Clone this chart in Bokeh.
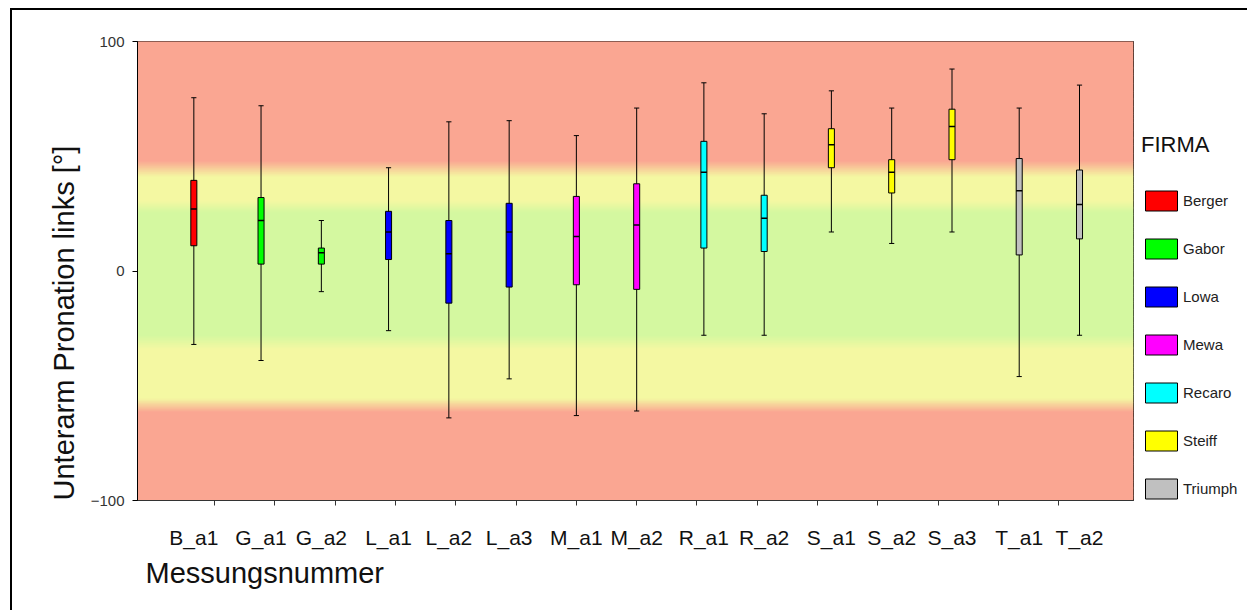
import numpy as np
from bokeh.plotting import figure
from bokeh.layouts import row
from bokeh.models import Range1d, FixedTicker, Legend, LegendItem, ColumnDataSource, Title
from bokeh.embed import file_html
from bokeh.resources import INLINE

# ---------------- data ----------------
measurements = ["B_a1", "G_a1", "G_a2", "L_a1", "L_a2", "L_a3", "M_a1", "M_a2",
                "R_a1", "R_a2", "S_a1", "S_a2", "S_a3", "T_a1", "T_a2"]
firm_of_measurement = ["Berger", "Gabor", "Gabor", "Lowa", "Lowa", "Lowa", "Mewa", "Mewa",
                       "Recaro", "Recaro", "Steiff", "Steiff", "Steiff", "Triumph", "Triumph"]
firms = ["Berger", "Gabor", "Lowa", "Mewa", "Recaro", "Steiff", "Triumph"]
firm_colors = ["#FF0000", "#00FF00", "#0000FF", "#FF00FF", "#00FFFF", "#FFFF00", "#C0C0C0"]

whisker_low = [-32, -39, -9, -26, -64, -47, -63, -61, -28, -28, 17, 12, 17, -46, -28]
q1 = [11, 3, 3, 5, -14, -7, -6, -8, 10, 8.5, 45, 34, 48.5, 7, 14]
median = [27, 22, 8, 17, 7.5, 17, 15, 20, 43, 23, 55, 43, 63, 35, 29]
q3 = [39.5, 32, 10, 26, 22, 29.5, 32.5, 38, 56.5, 33, 62, 48.5, 70.5, 49, 44]
whisker_high = [75.5, 72, 22, 45, 65, 65.5, 59, 71, 82, 68.5, 78.5, 71, 88, 71, 81]

y_ticks = [-100, 0, 100]
x_title = "Messungsnummer"
y_title = "Unterarm Pronation links [°]"
legend_title = "FIRMA"

# background zones (top to bottom): red / yellow / green / yellow / red
zone_edges = [44.5, 28.0, -31.0, -58.5]
zone_blur = [7.0, 5.0, 6.0, 6.0]
zone_colors = ["#FAA692", "#F4F8A2", "#D4F8A0", "#F4F8A2", "#FAA692"]

# ---------------- layout constants ----------------
CAT = 70      # units per category
SUB = 8       # cluster slot width (one slot per firm)
BOX_W = 7
CAP_W = 6
FONT = "Liberation Sans"

n = len(measurements)
centers = [i * CAT for i in range(n)]
x_pos = [i * CAT + (firms.index(f) - 3) * SUB for i, f in enumerate(firm_of_measurement)]

p = figure(frame_width=996, frame_height=459, output_backend="svg", toolbar_location=None,
           x_range=Range1d(-1.277 * CAT, 15.238 * CAT), y_range=Range1d(-100, 100),
           min_border_left=125, min_border_right=2, min_border_top=31, min_border_bottom=110)
p.xgrid.visible = False
p.ygrid.visible = False
p.outline_line_color = "black"
p.outline_line_width = 1
p.background_fill_color = "white"

# ---------------- background gradient zones ----------------
def hex2rgb(h):
    return np.array([int(h[i:i + 2], 16) for i in (1, 3, 5)], dtype=float)

step = 0.5
ys = np.arange(-100, 100, step)
cols = []
for yb in ys:
    yc = yb + step / 2
    c = hex2rgb(zone_colors[0])
    for j, (e, w) in enumerate(zip(zone_edges, zone_blur)):
        t = np.clip((e + w / 2 - yc) / w, 0, 1)
        c = c * (1 - t) + hex2rgb(zone_colors[j + 1]) * t
    cols.append("#%02x%02x%02x" % tuple(int(round(v)) for v in c))
p.quad(left=p.x_range.start, right=p.x_range.end, bottom=ys, top=ys + step * 1.8,
       fill_color=cols, line_color=None)

# ---------------- boxes ----------------
for k, firm in enumerate(firms):
    idx = [i for i, f in enumerate(firm_of_measurement) if f == firm]
    xs = [x_pos[i] for i in idx]
    src = ColumnDataSource(dict(
        x=xs,
        cx0=[x - CAP_W / 2 for x in xs], cx1=[x + CAP_W / 2 for x in xs],
        bx0=[x - BOX_W / 2 for x in xs], bx1=[x + BOX_W / 2 for x in xs],
        lo=[whisker_low[i] for i in idx], q1=[q1[i] for i in idx],
        med=[median[i] for i in idx], q3=[q3[i] for i in idx],
        hi=[whisker_high[i] for i in idx],
    ))
    p.segment(x0="x", y0="lo", x1="x", y1="hi", line_color="black", line_width=1, source=src)
    p.segment(x0="cx0", y0="hi", x1="cx1", y1="hi", line_color="black", line_width=1, source=src)
    p.segment(x0="cx0", y0="lo", x1="cx1", y1="lo", line_color="black", line_width=1, source=src)
    p.vbar(x="x", width=BOX_W, bottom="q1", top="q3", fill_color=firm_colors[k],
           line_color="black", line_width=1, source=src)
    p.segment(x0="bx0", y0="med", x1="bx1", y1="med", line_color="black", line_width=1.5, source=src)

# ---------------- axes ----------------
xa = p.xaxis[0]
xa.ticker = FixedTicker(ticks=x_pos, minor_ticks=centers)
xa.major_label_overrides = {x: m for x, m in zip(x_pos, measurements)}
xa.major_tick_out = 0
xa.major_tick_in = 0
xa.minor_tick_out = 5
xa.minor_tick_in = 0
xa.minor_tick_line_color = "#333333"
xa.axis_line_color = "#333333"
xa.major_label_standoff = 20
xa.major_label_text_font = FONT
xa.major_label_text_font_size = "21px"
xa.major_label_text_color = "#111111"

ya = p.yaxis[0]
ya.ticker = FixedTicker(ticks=y_ticks, minor_ticks=[])
ya.major_tick_out = 5
ya.major_tick_in = 0
ya.major_tick_line_color = "black"
ya.axis_line_color = "black"
ya.major_label_standoff = 8
ya.major_label_text_font = FONT
ya.major_label_text_font_size = "15px"
ya.major_label_text_color = "#333333"

p.add_layout(Title(text=x_title, align="left", offset=8, standoff=7,
                   text_font=FONT, text_font_size="29px", text_font_style="normal",
                   text_color="#111111"), "below")
p.add_layout(Title(text=y_title, align="left", offset=0, standoff=15,
                   text_font=FONT, text_font_size="29px", text_font_style="normal",
                   text_color="#111111"), "left")

# ---------------- legend (separate panel to the right of the plot) ----------------
pl = figure(width=112, height=600, output_backend="svg", toolbar_location=None,
            x_axis_type=None, y_axis_type=None, min_border=0,
            x_range=Range1d(0, 1), y_range=Range1d(0, 1))
pl.outline_line_color = None
pl.background_fill_alpha = 0
pl.border_fill_alpha = 0
items = []
for firm, color in zip(firms, firm_colors):
    # legend-only renderer: its single bar lies far outside the (invisible) panel range
    dummy = ColumnDataSource(dict(x=[50.0], bottom=[50.0], top=[60.0]))
    r = pl.vbar(x="x", bottom="bottom", top="top", width=0.1, fill_color=color,
                line_color="black", line_width=1, source=dummy)
    items.append(LegendItem(label=firm, renderers=[r]))
legend = Legend(items=items, title=legend_title, location=(6, -1), margin=0, padding=8,
                glyph_width=40, glyph_height=25, label_height=25, spacing=23,
                label_standoff=2, label_text_font=FONT, label_text_font_size="15px",
                label_text_color="#222222",
                title_text_font=FONT, title_text_font_size="22px", title_text_font_style="normal",
                title_text_color="#111111", title_standoff=30,
                background_fill_alpha=0, border_line_color=None)
pl.add_layout(legend)

layout = row(p, pl)
layout.margin = (8, 0, 0, 10)
layout.styles = {"border-top": "2px solid black", "border-left": "2px solid black"}

open("out.html", "w").write(file_html(layout, INLINE))
